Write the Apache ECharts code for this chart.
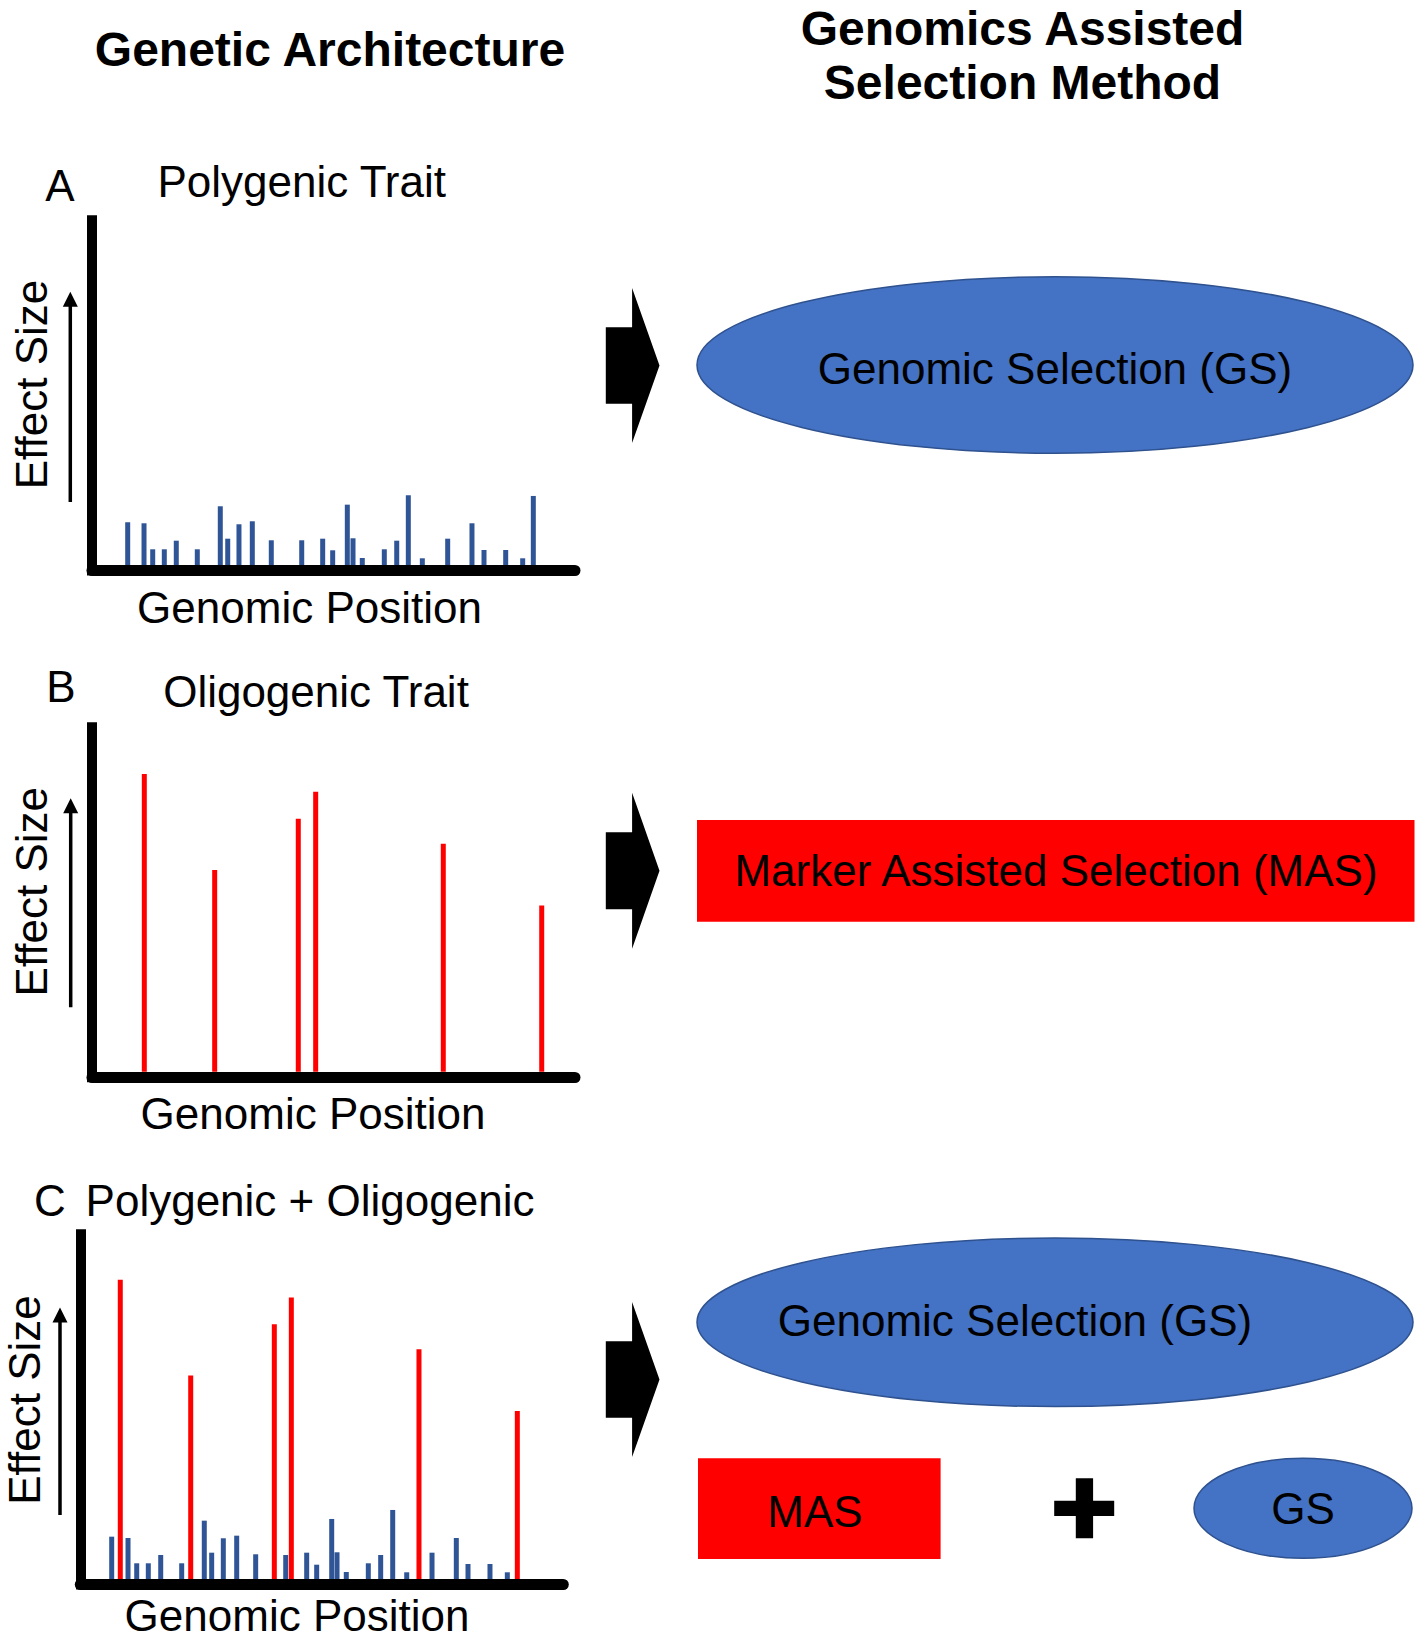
<!DOCTYPE html>
<html>
<head>
<meta charset="utf-8">
<script src="https://cdn.jsdelivr.net/npm/echarts@6/dist/echarts.min.js"></script>
<style>
html,body{margin:0;padding:0;background:#fff;}
#chart{width:1416px;height:1639px;}
</style>
</head>
<body>
<div id="chart"></div>
<script>
// ---- Data (genomic position 0-100, effect size in arbitrary units) ----
const posA = [7.39, 10.77, 12.57, 14.97, 17.45, 21.80, 26.56, 28.10, 30.43, 33.19, 37.12, 43.42, 47.76, 49.83, 52.86, 54.04, 55.96, 60.52, 63.09, 65.49, 68.39, 73.64, 78.67, 81.16, 85.65, 89.17, 91.37];
const effectA = [4.27, 4.17, 1.57, 1.57, 2.43, 1.57, 5.87, 2.63, 4.07, 4.37, 2.47, 2.47, 2.63, 1.47, 6.03, 2.67, 0.70, 1.57, 2.43, 6.97, 0.67, 2.63, 4.17, 1.50, 1.50, 0.67, 6.90];

const posB = [10.83, 25.40, 42.71, 46.31, 72.73, 93.11];
const effectB = [29.77, 20.17, 25.30, 28.00, 22.80, 16.64];

const posCpoly = [6.50, 9.88, 11.68, 14.08, 16.65, 20.99, 25.67, 27.20, 29.61, 32.38, 36.31, 42.53, 46.87, 48.94, 52.05, 53.15, 55.07, 59.63, 62.19, 64.68, 67.58, 72.82, 77.85, 80.27, 84.82, 88.41];
const effectCpoly = [4.23, 4.10, 1.57, 1.57, 2.40, 1.57, 5.83, 2.63, 4.07, 4.33, 2.47, 2.40, 2.63, 1.43, 6.00, 2.67, 0.70, 1.57, 2.40, 6.90, 0.67, 2.63, 4.10, 1.50, 1.50, 0.67];

const posColigo = [8.28, 22.86, 40.17, 43.69, 70.12, 90.48];
const effectColigo = [29.90, 20.33, 25.47, 28.13, 22.97, 16.80];

const panelLetters = ['A', 'B', 'C'];
const panelTitles = ['Polygenic Trait', 'Oligogenic Trait', 'Polygenic + Oligogenic'];
const xAxisName = 'Genomic Position';
const yAxisName = 'Effect Size';
const headerLeft = 'Genetic Architecture';
const headerRight = ['Genomics Assisted', 'Selection Method'];
const methodGS = 'Genomic Selection (GS)';
const methodMAS = 'Marker Assisted Selection (MAS)';
const shortMAS = 'MAS';
const shortGS = 'GS';

// ---- Styling ----
const BLUE_BAR = '#2F5597';
const RED = '#FF0000';
const ELL_FILL = '#4472C4';
const ELL_STROKE = '#2F528F';
const FONT = 'Liberation Sans, Arial, Helvetica, sans-serif';

function zip(xs, ys) { return xs.map((x, i) => [x, ys[i]]); }

const grids = [
  { left: 92, width: 483, top: 220.3, height: 350.2 },
  { left: 92, width: 483, top: 727.3, height: 350 },
  { left: 80.3, width: 483, top: 1234.3, height: 350.2 }
];

const xAxes = grids.map((g, i) => ({
  gridIndex: i, type: 'value', min: 0, max: 100,
  axisLine: { show: true, onZero: false, lineStyle: { color: '#000', width: 11 } },
  axisTick: { show: false }, axisLabel: { show: false }, splitLine: { show: false }
}));
const yAxes = grids.map((g, i) => ({
  gridIndex: i, type: 'value', min: -0.55, max: 34.45,
  axisLine: { show: true, onZero: false, lineStyle: { color: '#000', width: 10, cap: 'square' } },
  axisTick: { show: false }, axisLabel: { show: false }, splitLine: { show: false }
}));

function barSeries(idx, data, color) {
  return {
    type: 'bar', xAxisIndex: idx, yAxisIndex: idx, data: data,
    barWidth: 5, barGap: '-100%', itemStyle: { color: color }, silent: true
  };
}

function txt(str, x, y, size, opts) {
  opts = opts || {};
  return {
    type: 'text', x: x, y: y, rotation: opts.rotation || 0, z: 100,
    style: {
      text: str, fill: '#000', fontSize: size, fontFamily: FONT,
      fontWeight: opts.bold ? 'bold' : 'normal',
      textAlign: 'center', textVerticalAlign: 'middle'
    }
  };
}

function chevron(cy, rectHalf, triHalf) {
  const x0 = 605.8, x1 = 632.1, xt = 659.5;
  return {
    type: 'polygon', z: 50,
    shape: { points: [[x0, cy - rectHalf], [x1, cy - rectHalf], [x1, cy - triHalf], [xt, cy], [x1, cy + triHalf], [x1, cy + rectHalf], [x0, cy + rectHalf]] },
    style: { fill: '#000' }
  };
}

function upArrow(x, tipY, bottomY) {
  return [
    { type: 'line', z: 50, shape: { x1: x, y1: tipY + 12, x2: x, y2: bottomY }, style: { stroke: '#000', lineWidth: 3.5 } },
    { type: 'polygon', z: 50, shape: { points: [[x, tipY], [x - 7.5, tipY + 15], [x + 7.5, tipY + 15]] }, style: { fill: '#000' } }
  ];
}

const graphics = [
  txt(headerLeft, 330, 49, 48, { bold: true }),
  txt(headerRight[0], 1022.5, 28, 48, { bold: true }),
  txt(headerRight[1], 1022.5, 82, 48, { bold: true }),

  txt(panelLetters[0], 60, 185, 44),
  txt(panelTitles[0], 301.7, 181, 44),
  txt(panelLetters[1], 61, 686, 44),
  txt(panelTitles[1], 316, 691, 44),
  txt(panelLetters[2], 50, 1200, 44),
  txt(panelTitles[2], 310, 1200, 44),

  txt(yAxisName, 31, 384.5, 44, { rotation: Math.PI / 2 }),
  txt(yAxisName, 31, 891.7, 44, { rotation: Math.PI / 2 }),
  txt(yAxisName, 24, 1400, 44, { rotation: Math.PI / 2 }),

  txt(xAxisName, 309.5, 607, 44),
  txt(xAxisName, 313, 1113, 44),
  txt(xAxisName, 297, 1615, 44),

  ...upArrow(70.3, 291.7, 502),
  ...upArrow(70.7, 798.3, 1007.3),
  ...upArrow(60, 1307.5, 1515),

  chevron(365.5, 38.3, 77.5),
  chevron(870.8, 38.5, 78),
  chevron(1379.5, 38.3, 77.5),

  { type: 'ellipse', z: 40, shape: { cx: 1055, cy: 365, rx: 358, ry: 88.3 }, style: { fill: ELL_FILL, stroke: ELL_STROKE, lineWidth: 1.5 } },
  txt(methodGS, 1055, 368, 44),

  { type: 'rect', z: 40, shape: { x: 697, y: 820, width: 717.5, height: 101.7 }, style: { fill: RED } },
  txt(methodMAS, 1056, 870, 44),

  { type: 'ellipse', z: 40, shape: { cx: 1055, cy: 1322.3, rx: 358, ry: 84.3 }, style: { fill: ELL_FILL, stroke: ELL_STROKE, lineWidth: 1.5 } },
  txt(methodGS, 1015, 1320, 44),

  { type: 'rect', z: 40, shape: { x: 698, y: 1458.3, width: 242.6, height: 100.7 }, style: { fill: RED } },
  txt(shortMAS, 815, 1511, 44),

  { type: 'rect', z: 40, shape: { x: 1075.8, y: 1478.3, width: 17.3, height: 60 }, style: { fill: '#000' } },
  { type: 'rect', z: 40, shape: { x: 1054.2, y: 1500.7, width: 60, height: 15.3 }, style: { fill: '#000' } },

  { type: 'ellipse', z: 40, shape: { cx: 1303, cy: 1508.3, rx: 109, ry: 50 }, style: { fill: ELL_FILL, stroke: ELL_STROKE, lineWidth: 1.5 } },
  txt(shortGS, 1303, 1508, 44)
];

const chart = echarts.init(document.getElementById('chart'), null, { renderer: 'svg', width: 1416, height: 1639 });
chart.setOption({
  animation: false,
  backgroundColor: '#ffffff',
  grid: grids,
  xAxis: xAxes,
  yAxis: yAxes,
  series: [
    barSeries(0, zip(posA, effectA), BLUE_BAR),
    barSeries(1, zip(posB, effectB), RED),
    barSeries(2, zip(posCpoly, effectCpoly), BLUE_BAR),
    barSeries(2, zip(posColigo, effectColigo), RED)
  ],
  graphic: { elements: graphics }
});
</script>
</body>
</html>
